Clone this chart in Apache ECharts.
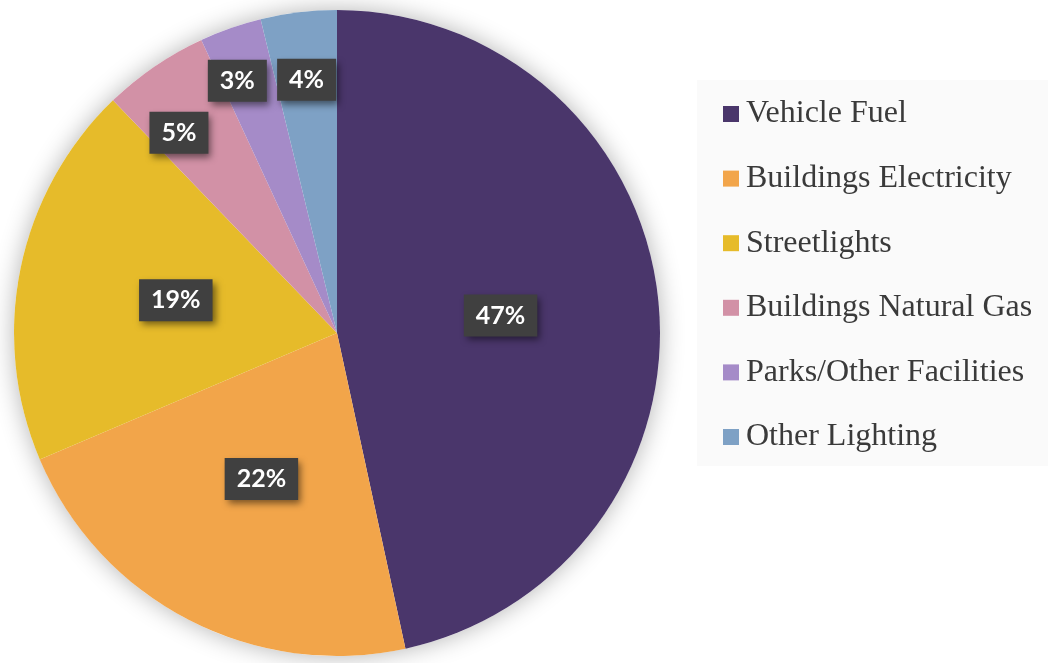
<!DOCTYPE html>
<html>
<head>
<meta charset="utf-8">
<script src="https://cdn.jsdelivr.net/npm/echarts@6/dist/echarts.min.js"></script>
<style>
  html, body { margin: 0; padding: 0; background: #fff; }
  #chart { width: 1050px; height: 663px; }
</style>
</head>
<body>
<div id="chart"></div>
<script>
// categories and shares (percent of total)
const categories = ['Vehicle Fuel', 'Buildings Electricity', 'Streetlights', 'Buildings Natural Gas', 'Parks/Other Facilities', 'Other Lighting'];
const shares = [46.6, 22.0, 19.2, 5.3, 3.1, 3.8];
const colors = ['#4a366b', '#f2a54a', '#e6bb2a', '#d291a6', '#a58bc8', '#7ea1c5'];

const pieCenter = [337, 333];
const pieRadius = 323;

const chart = echarts.init(document.getElementById('chart'));

chart.setOption({
  animation: false,
  color: colors,
  graphic: [
    {
      type: 'rect',
      shape: { x: 697, y: 80, width: 351, height: 386 },
      style: { fill: '#fafafa' },
      z: -1
    }
  ],
  legend: {
    orient: 'vertical',
    left: 697,
    top: 80,
    padding: [18, 10, 10, 26],
    itemWidth: 16,
    itemHeight: 16,
    itemGap: 32.6,
    icon: 'rect',
    selectedMode: false,
    data: categories,
    textStyle: {
      fontFamily: 'Liberation Serif',
      fontSize: 32,
      lineHeight: 32,
      color: '#3a3a3a',
      padding: [0, 0, 0, 2]
    }
  },
  series: [
    {
      // soft shadow underneath the pie
      type: 'pie',
      silent: true,
      center: pieCenter,
      radius: pieRadius,
      label: { show: false },
      labelLine: { show: false },
      itemStyle: {
        color: '#ffffff',
        shadowBlur: 24,
        shadowColor: 'rgba(0,0,0,0.3)'
      },
      data: [{ value: 1, name: '_bg' }],
      z: 1
    },
    {
      type: 'pie',
      center: pieCenter,
      radius: pieRadius,
      startAngle: 90,
      clockwise: true,
      z: 2,
      label: {
        show: true,
        position: 'inside',
        formatter: function (p) { return Math.round(p.percent) + '%'; },
        fontFamily: 'Lato',
        fontWeight: 'bold',
        fontSize: 25,
        lineHeight: 24,
        color: '#ffffff',
        backgroundColor: '#404040',
        padding: [9, 12, 9, 12],
        shadowColor: 'rgba(0,0,0,0.5)',
        shadowBlur: 7,
        shadowOffsetX: 3,
        shadowOffsetY: 4
      },
      labelLine: { show: false },
      labelLayout: function (params) {
        // small slices: push the label out towards the rim
        const i = params.dataIndex;
        if (shares[i] >= 10) return {};
        const r = params.labelRect;
        const lx = r.x + r.width / 2 - pieCenter[0];
        const ly = r.y + r.height / 2 - pieCenter[1];
        let ang = Math.atan2(ly, lx);
        let target = 0.79 * pieRadius;
        if (i === 3) ang -= 0.068;
        if (i === 4) { target = 0.84 * pieRadius; ang -= 0.04; } // keep clear of the 4% box
        return {
          dx: Math.cos(ang) * target - lx,
          dy: Math.sin(ang) * target - ly
        };
      },
      emphasis: { disabled: true },
      data: categories.map((c, i) => ({ name: c, value: shares[i] }))
    }
  ]
});
</script>
</body>
</html>
